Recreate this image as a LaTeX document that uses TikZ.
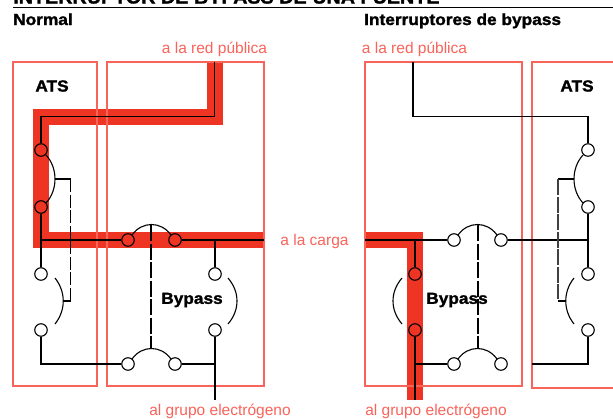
\documentclass[tikz,border=0pt]{standalone}
\usepackage{fontspec}
\setmainfont{Liberation Sans}
\newfontfamily\heavyfont{Liberation Sans Bold}[FakeBold=1.6,FakeStretch=1.08]
\definecolor{bandred}{HTML}{EE3524}
\definecolor{boxred}{HTML}{F8635A}
\tikzset{
  term/.style={circle,draw=black,line width=1.1pt,minimum size=12.5pt,inner sep=0pt},
  wire/.style={black,line width=1.1pt},
  band/.style={bandred,line width=16pt},
  boxline/.style={boxred,line width=1.25pt},
  link/.style={black,line width=1.1pt,dash pattern=on 16pt off 2.5pt},
  head/.style={font=\heavyfont\fontsize{16}{18}\selectfont,inner sep=0pt},
  note/.style={text=boxred,font=\fontsize{15.5}{18}\selectfont,inner sep=0pt},
}
\begin{document}
\begin{tikzpicture}[x=1pt,y=-1pt]
\useasboundingbox (0,0) rectangle (613,418);

% \draw title and rule
\begin{scope}
\clip (0,0) rectangle (613,418);
\node[head,anchor=base west,font=\heavyfont\fontsize{18.3}{20}\selectfont] (title) at (13,3.5) {INTERRUPTOR DE BYPASS DE UNA FUENTE};
\end{scope}
\coordinate (ruleL) at (13,7.5);
\coordinate (ruleR) at (613,7.5);
\draw[line width=1pt] (ruleL) -- (ruleR);
\node[head,anchor=base west] (normal) at (13,25) {Normal};
\node[head,anchor=base west] (bypassT) at (364,25) {Interruptores de bypass};

% \draw red bands
\draw[band] (214.5,62) -- (214.5,116.5) -- (41,116.5) -- (41,240) -- (264,240);
\draw[band] (365,240) -- (415,240) -- (415,400);

% \draw boxes
\draw[boxline] (13,62) rectangle (97,386);
\draw[boxline] (107,62) rectangle (264,386);
\draw[boxline] (365,62) rectangle (522,386);
\draw[boxline] (613,62) -- (532,62) -- (532,388) -- (613,388);

% \draw left terminals
\node[term] (la1) at (41,150) {};
\node[term] (la2) at (41,207) {};
\node[term] (la3) at (41,274) {};
\node[term] (la4) at (41,330) {};
\node[term] (lb1) at (215,274) {};
\node[term] (lb2) at (215,330) {};
\node[term] (lt1) at (128,240) {};
\node[term] (lt2) at (175,240) {};
\node[term] (ld1) at (128,364) {};
\node[term] (ld2) at (175,364) {};
\coordinate (lin) at (214.5,62);
\coordinate (lbend) at (41,116.5);
\coordinate (lload) at (264,240);
\coordinate (lgen) at (215,400);

% \draw left wires
\draw[wire] (lin) -- (214.5,116.5) -- (lbend) -- (la1);
\draw[wire] (la2) -- (la3);
\draw[wire] (41,240) -- (lt1);
\draw[wire] (lt2) -- (lload);
\draw[wire] (215,240) -- (lb1);
\draw[wire] (la4) -- (41,364) -- (ld1);
\draw[wire] (ld2) -- (215,364);
\draw[wire] (lb2) -- (lgen);

% \draw left arcs
\draw[wire] (46,155) .. controls (58,168) and (58,190) .. (46,203);
\draw[wire] (55,278) .. controls (66,292) and (66,310) .. (55,324);
\draw[wire] (228,278) .. controls (240,292) and (240,310) .. (228,324);
\draw[wire] (132,235) .. controls (142,221) and (161,221) .. (171,235);
\draw[wire] (132,359) .. controls (142,345) and (161,345) .. (171,359);
\draw[wire] (55,179) -- (70.5,179);
\draw[link,dash pattern=on 13pt off 2.5pt] (70.5,179) -- (70.5,301);
\draw[wire] (63,301) -- (70.5,301);
\draw[link] (151,225) -- (151,349);

% \draw right terminals
\node[term] (ra1) at (588,150) {};
\node[term] (ra2) at (588,207) {};
\node[term] (ra3) at (588,274) {};
\node[term] (ra4) at (588,330) {};
\node[term] (rb1) at (415,274) {};
\node[term] (rb2) at (415,330) {};
\node[term] (rt1) at (454,240) {};
\node[term] (rt2) at (501,240) {};
\node[term] (rd1) at (454,364) {};
\node[term] (rd2) at (501,364) {};
\coordinate (rin) at (413,62);
\coordinate (rload) at (365,240);
\coordinate (rgen) at (415,400);
\coordinate (rback) at (532,364);

% \draw right wires
\draw[wire] (rin) -- (413,116.5) -- (588,116.5) -- (ra1);
\draw[wire] (ra2) -- (ra3);
\draw[wire] (rload) -- (rt1);
\draw[wire] (rt2) -- (588,240);
\draw[wire] (415,240) -- (rb1);
\draw[wire] (rb2) -- (rgen);
\draw[wire] (415,364) -- (rd1);
\draw[wire] (ra4) -- (588,364) -- (rback);

% \draw right arcs
\draw[wire] (583,155) .. controls (571,168) and (571,190) .. (583,203);
\draw[wire] (574,278) .. controls (563,292) and (563,310) .. (574,324);
\draw[wire] (402,278) .. controls (390,292) and (390,310) .. (402,324);
\draw[wire] (458,235) .. controls (468,221) and (487,221) .. (497,235);
\draw[wire] (458,359) .. controls (468,345) and (487,345) .. (497,359);
\draw[wire] (573.5,179) -- (558,179);
\draw[link,line width=1.3pt,black!75,dash pattern=on 16pt off 1.5pt] (558,179) -- (558,299);
\draw[wire] (566,301) -- (558,301);
\draw[link] (478,225) -- (478,349);

% \draw labels
\node[head] (atsL) at (52,86) {ATS};
\node[head] (atsR) at (577,86) {ATS};
\node[head] (bypL) at (192,300) {Bypass};
\node[head] (bypR) at (457,300) {Bypass};
\node[note,anchor=base] (redL) at (214.5,53) {a la red pública};
\node[note,anchor=base] (redR) at (414.5,53) {a la red pública};
\node[note,anchor=base] (load) at (314.5,245) {a la carga};
\node[note,anchor=base] (genL) at (220,415) {al grupo electrógeno};
\node[note,anchor=base] (genR) at (436,415) {al grupo electrógeno};
\end{tikzpicture}
\end{document}
